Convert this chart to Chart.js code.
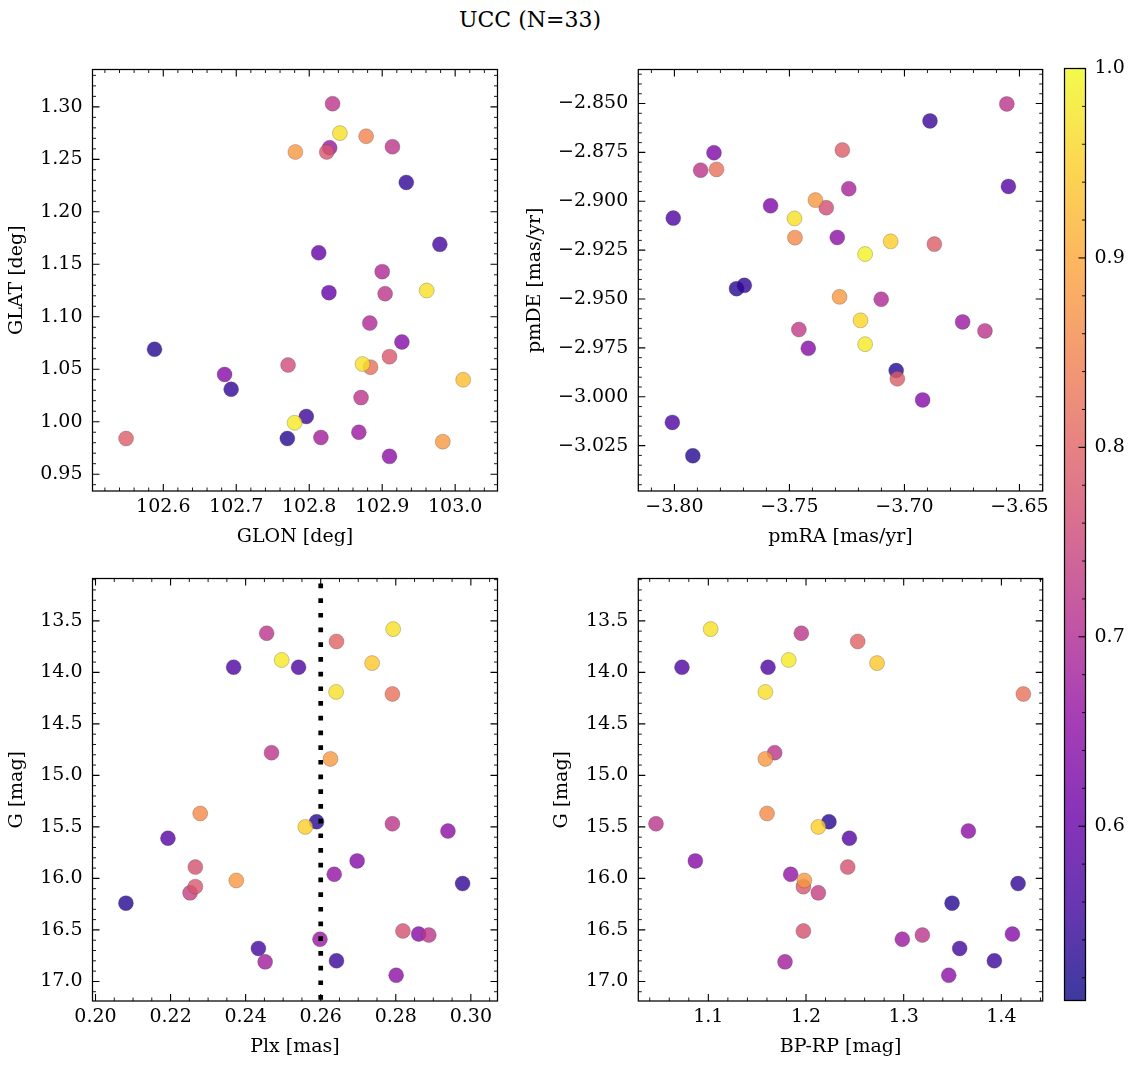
<!DOCTYPE html>
<html><head><meta charset="utf-8">
<script src="https://cdn.jsdelivr.net/npm/chart.js@4.4.1/dist/chart.umd.min.js"></script>
<style>
html,body{margin:0;padding:0;background:#fff;}
#wrap{position:relative;width:1136px;height:1068px;overflow:hidden;}
canvas{position:absolute;left:0;top:0;}
#title{position:absolute;left:0;width:1060px;top:7px;line-height:26px;text-align:center;font-family:"DejaVu Serif",serif;font-size:22px;color:#000;}
</style></head><body>
<div id="wrap">
<div id="title">UCC (N=33)</div>
<canvas id="cTL" width="1136" height="1068"></canvas>
<canvas id="cTR" width="1136" height="1068"></canvas>
<canvas id="cBL" width="1136" height="1068"></canvas>
<canvas id="cBR" width="1136" height="1068"></canvas>
<canvas id="cCB" width="1136" height="1068"></canvas>
</div>
<script>
// ---------------- data ----------------
const glon = [102.832,102.842,102.878,102.781,102.828,102.824,102.914,102.933,102.979,102.813,102.900,102.827,102.904,102.961,102.883,102.927,102.910,102.873,102.884,102.771,102.588,102.684,102.693,103.011,102.871,102.796,102.780,102.549,102.770,102.816,102.868,102.983,102.910];
const glat = [1.303,1.275,1.272,1.257,1.261,1.257,1.262,1.228,1.169,1.161,1.143,1.123,1.122,1.125,1.094,1.076,1.062,1.055,1.052,1.054,1.069,1.045,1.031,1.040,1.023,1.005,0.999,0.984,0.984,0.985,0.990,0.981,0.967];
const probPos = [0.72,0.97,0.85,0.88,0.67,0.78,0.72,0.54,0.56,0.60,0.70,0.60,0.72,0.97,0.70,0.64,0.78,0.97,0.82,0.76,0.53,0.64,0.54,0.93,0.72,0.55,0.98,0.79,0.53,0.68,0.67,0.88,0.65];

const pmra = [-3.6555,-3.6889,-3.7270,-3.7828,-3.7886,-3.7817,-3.7242,-3.6548,-3.7582,-3.7387,-3.7340,-3.8005,-3.7478,-3.7476,-3.7292,-3.7060,-3.7171,-3.6870,-3.7730,-3.7696,-3.7282,-3.7101,-3.7191,-3.6747,-3.6650,-3.7459,-3.7418,-3.7171,-3.7036,-3.7031,-3.6921,-3.8009,-3.7920];
const pmde = [-2.8502,-2.8589,-2.8738,-2.8752,-2.8841,-2.8837,-2.8936,-2.8924,-2.9023,-2.8994,-2.9033,-2.9086,-2.9088,-2.9186,-2.9185,-2.9205,-2.9270,-2.9219,-2.9447,-2.9430,-2.9489,-2.9501,-2.9609,-2.9617,-2.9663,-2.9656,-2.9752,-2.9731,-2.9866,-2.9908,-3.0016,-3.0131,-3.0302];
const probPm = [0.72,0.55,0.79,0.63,0.72,0.82,0.69,0.58,0.63,0.88,0.76,0.57,0.97,0.86,0.65,0.95,0.99,0.79,0.53,0.54,0.88,0.70,0.96,0.67,0.72,0.73,0.64,0.98,0.53,0.79,0.64,0.57,0.53];

const plx  = [0.2456,0.2642,0.2793,0.2496,0.2368,0.2541,0.2737,0.2641,0.2791,0.2469,0.2626,0.2279,0.2589,0.2559,0.2791,0.2939,0.2193,0.2697,0.2266,0.2636,0.2375,0.2266,0.2252,0.2978,0.2081,0.2819,0.2861,0.2888,0.2598,0.2434,0.2452,0.2642,0.2801];
const gmag = [13.62,13.70,13.58,13.88,13.95,13.95,13.91,14.19,14.21,14.78,14.84,15.37,15.45,15.50,15.47,15.54,15.61,15.83,15.89,15.96,16.02,16.08,16.14,16.05,16.24,16.51,16.54,16.55,16.59,16.68,16.81,16.80,16.94];
const bprp = [1.1952,1.2529,1.1024,1.1823,1.0730,1.1611,1.2727,1.1584,1.4225,1.1679,1.1584,1.1601,1.2235,1.2126,1.0464,1.3662,1.2444,1.0867,1.2427,1.1843,1.1983,1.1973,1.2126,1.4171,1.3495,1.1973,1.4113,1.3191,1.2986,1.3573,1.1785,1.3928,1.3461];
const probPhot = [0.72,0.80,0.97,0.98,0.57,0.57,0.94,0.97,0.82,0.72,0.88,0.86,0.53,0.95,0.72,0.65,0.58,0.64,0.77,0.66,0.88,0.78,0.74,0.54,0.53,0.77,0.64,0.72,0.67,0.56,0.68,0.55,0.65];

const plxMedian = 0.26;
const probRange = [0.508, 1.0];

const glonTicks = [102.6,102.7,102.8,102.9,103.0];
const glatTicks = [0.95,1.00,1.05,1.10,1.15,1.20,1.25,1.30];
const pmraTicks = [-3.80,-3.75,-3.70,-3.65];
const pmdeTicks = [-3.025,-3.000,-2.975,-2.950,-2.925,-2.900,-2.875,-2.850];
const plxTicks  = [0.20,0.22,0.24,0.26,0.28,0.30];
const gTicks    = [13.5,14.0,14.5,15.0,15.5,16.0,16.5,17.0];
const bprpTicks = [1.1,1.2,1.3,1.4];
const probTicks = [0.6,0.7,0.8,0.9,1.0];

// ---------------- style helpers ----------------
const PLASMA = ['#0d0887','#41049d','#6a00a8','#8f0da4','#b12a90','#cc4778','#e16462','#f2844b','#fca636','#fcce25','#f0f921'];
const PL_RGB = PLASMA.map(h => [parseInt(h.slice(1,3),16),parseInt(h.slice(3,5),16),parseInt(h.slice(5,7),16)]);
function plasma(t, a) {
  t = Math.max(0, Math.min(1, t));
  const f = t * 10; const i = Math.min(9, Math.floor(f)); const fr = f - i;
  const c = [0,1,2].map(k => Math.round(PL_RGB[i][k] + (PL_RGB[i+1][k] - PL_RGB[i][k]) * fr));
  return `rgba(${c[0]},${c[1]},${c[2]},${a})`;
}
function probColor(p) { return plasma((p - probRange[0]) / (probRange[1] - probRange[0]), 0.8); }

const FONT = {family: '"DejaVu Serif", serif', size: 19};
const LH = FONT.size * 1.2;
const W = 1136, H = 1068;
function fmt(d) { return v => Number(v).toFixed(d).replace('-', '\u2212'); }

const frameTicks = {
  id: 'frameTicks',
  beforeDatasetsDraw(chart, args, o) {
    if (!o || !o.colorbar) return;
    const {ctx, chartArea: a} = chart;
    const g = ctx.createLinearGradient(0, a.bottom, 0, a.top);
    for (let k = 0; k <= 40; k++) g.addColorStop(k / 40, plasma(k / 40, 0.8));
    ctx.save(); ctx.fillStyle = g; ctx.fillRect(a.left, a.top, a.right - a.left, a.bottom - a.top); ctx.restore();
  },
  afterDatasetsDraw(chart, args, o) {
    if (!o || !o.sides) return;
    const {ctx, chartArea: a} = chart;
    ctx.save();
    ctx.strokeStyle = '#000';
    const majorLen = 7, minorLen = 3.5;
    function walk(scale, step, cb) {
      const lo = Math.min(scale.min, scale.max), hi = Math.max(scale.min, scale.max);
      const majors = scale.ticks.map(t => t.value);
      majors.forEach(v => cb(scale.getPixelForValue(v), true));
      const s = Math.ceil(lo / step - 1e-6);
      for (let k = s; k * step <= hi + 1e-9; k++) {
        const v = k * step;
        if (majors.some(m => Math.abs(m - v) < step * 1e-3)) continue;
        cb(scale.getPixelForValue(v), false);
      }
    }
    const xs = chart.scales.x, ys = chart.scales.y;
    if (o.sides.includes('bottom') || o.sides.includes('top')) {
      walk(xs, o.xMinor, (px, major) => {
        const L = major ? majorLen : minorLen;
        ctx.lineWidth = major ? 1.1 : 0.9;
        ctx.beginPath();
        if (o.sides.includes('bottom')) { ctx.moveTo(px, a.bottom); ctx.lineTo(px, a.bottom - L); }
        if (o.sides.includes('top')) { ctx.moveTo(px, a.top); ctx.lineTo(px, a.top + L); }
        ctx.stroke();
      });
    }
    walk(ys, o.yMinor, (py, major) => {
      const L = major ? majorLen : minorLen;
      ctx.lineWidth = major ? 1.1 : 0.9;
      ctx.beginPath();
      if (o.sides.includes('left')) { ctx.moveTo(a.left, py); ctx.lineTo(a.left + L, py); }
      if (o.sides.includes('right')) { ctx.moveTo(a.right, py); ctx.lineTo(a.right - L, py); }
      ctx.stroke();
    });
    ctx.lineWidth = 1.25;
    ctx.strokeRect(a.left, a.top, a.right - a.left, a.bottom - a.top);
    ctx.restore();
  }
};
Chart.register(frameTicks);

function makePanel(id, xs, ys, ps, cfg) {
  const idx = ps.map((p, i) => i).sort((a, b) => ps[a] - ps[b]);
  const pts = idx.map(i => ({x: xs[i], y: ys[i]}));
  const cols = idx.map(i => probColor(ps[i]));
  const datasets = [{
    type: 'scatter', data: pts, order: 1,
    pointRadius: 7.5, pointHoverRadius: 7.5,
    backgroundColor: cols, borderColor: 'rgba(60,60,60,0.45)', borderWidth: 0.6
  }];
  if (cfg.vline !== undefined) {
    datasets.push({
      type: 'line', order: 0,
      data: [{x: cfg.vline, y: cfg.y.min}, {x: cfg.vline, y: cfg.y.max}],
      borderColor: '#000', borderWidth: 4.7, borderDash: [4.7, 10], borderDashOffset: 9.7,
      borderCapStyle: 'butt', pointRadius: 0, fill: false
    });
  }
  const padLeft = cfg.yTitleX - LH / 2;
  const yW = cfg.L - padLeft;
  const xBottom = cfg.xTitleY + LH / 2;
  const xH = xBottom - cfg.B;
  new Chart(document.getElementById(id), {
    type: 'scatter',
    data: {datasets},
    options: {
      responsive: false, animation: false, devicePixelRatio: 1,
      layout: {padding: {left: padLeft, right: W - cfg.R, top: cfg.T, bottom: H - xBottom}},
      plugins: {legend: {display: false}, tooltip: {enabled: false},
        frameTicks: {sides: ['bottom','top','left','right'], xMinor: cfg.x.minor, yMinor: cfg.y.minor}},
      scales: {
        x: {
          type: 'linear', position: 'bottom', min: cfg.x.min, max: cfg.x.max,
          afterBuildTicks: s => { s.ticks = cfg.x.ticks.map(v => ({value: v})); },
          afterFit: s => { s.height = xH; },
          grid: {display: false, drawTicks: false}, border: {display: false},
          ticks: {font: FONT, color: '#000', padding: 5, autoSkip: false, maxRotation: 0, callback: fmt(cfg.x.dec)},
          title: {display: true, text: cfg.x.title, font: FONT, color: '#000', padding: 0}
        },
        y: {
          type: 'linear', position: 'left', min: cfg.y.min, max: cfg.y.max, reverse: !!cfg.y.reverse,
          afterBuildTicks: s => { s.ticks = cfg.y.ticks.map(v => ({value: v})); },
          afterFit: s => { s.width = yW; },
          grid: {display: false, drawTicks: false}, border: {display: false},
          ticks: {font: FONT, color: '#000', padding: 10, autoSkip: false, callback: fmt(cfg.y.dec)},
          title: {display: true, text: cfg.y.title, font: FONT, color: '#000', padding: 0}
        }
      }
    }
  });
}

makePanel('cTL', glon, glat, probPos, {
  L: 92.5, R: 497.5, T: 69.5, B: 491, yTitleX: 17.2, xTitleY: 537,
  x: {min: 102.503, max: 103.058, ticks: glonTicks, minor: 0.02, dec: 1, title: 'GLON [deg]'},
  y: {min: 0.934, max: 1.3356, ticks: glatTicks, minor: 0.01, dec: 2, title: 'GLAT [deg]'}
});
makePanel('cTR', pmra, pmde, probPm, {
  L: 638.3, R: 1042.7, T: 69.5, B: 491, yTitleX: 535.3, xTitleY: 537,
  x: {min: -3.8157, max: -3.6399, ticks: pmraTicks, minor: 0.01, dec: 2, title: 'pmRA [mas/yr]'},
  y: {min: -3.0482, max: -2.8326, ticks: pmdeTicks, minor: 0.005, dec: 3, title: 'pmDE [mas/yr]'}
});
makePanel('cBL', plx, gmag, probPhot, {
  L: 92.5, R: 497.5, T: 578.5, B: 1001, yTitleX: 17, xTitleY: 1047.5, vline: plxMedian,
  x: {min: 0.1992, max: 0.3071, ticks: plxTicks, minor: 0.005, dec: 2, title: 'Plx [mas]'},
  y: {min: 13.089, max: 17.19, reverse: true, ticks: gTicks, minor: 0.1, dec: 1, title: 'G [mag]'}
});
makePanel('cBR', bprp, gmag, probPhot, {
  L: 638.3, R: 1042.7, T: 578.5, B: 1001, yTitleX: 562.3, xTitleY: 1046.7,
  x: {min: 1.0283, max: 1.4423, ticks: bprpTicks, minor: 0.02, dec: 1, title: 'BP-RP [mag]'},
  y: {min: 13.089, max: 17.19, reverse: true, ticks: gTicks, minor: 0.1, dec: 1, title: 'G [mag]'}
});

// colorbar
new Chart(document.getElementById('cCB'), {
  type: 'scatter',
  data: {datasets: [{data: []}]},
  options: {
    responsive: false, animation: false, devicePixelRatio: 1,
    layout: {padding: {left: 1064.5, right: 0, top: 68.5, bottom: H - 1000.5}},
    plugins: {legend: {display: false}, tooltip: {enabled: false},
      frameTicks: {colorbar: true, sides: ['right'], yMinor: 0.02}},
    scales: {
      x: {type: 'linear', display: false, min: 0, max: 1},
      y: {
        type: 'linear', position: 'right', min: probRange[0], max: probRange[1],
        afterBuildTicks: s => { s.ticks = probTicks.map(v => ({value: v})); },
        afterFit: s => { s.width = W - 1085.5; },
        grid: {display: false, drawTicks: false}, border: {display: false},
        ticks: {font: FONT, color: '#000', padding: 9, autoSkip: false, callback: fmt(1)}
      }
    }
  }
});
</script>
</body></html>
